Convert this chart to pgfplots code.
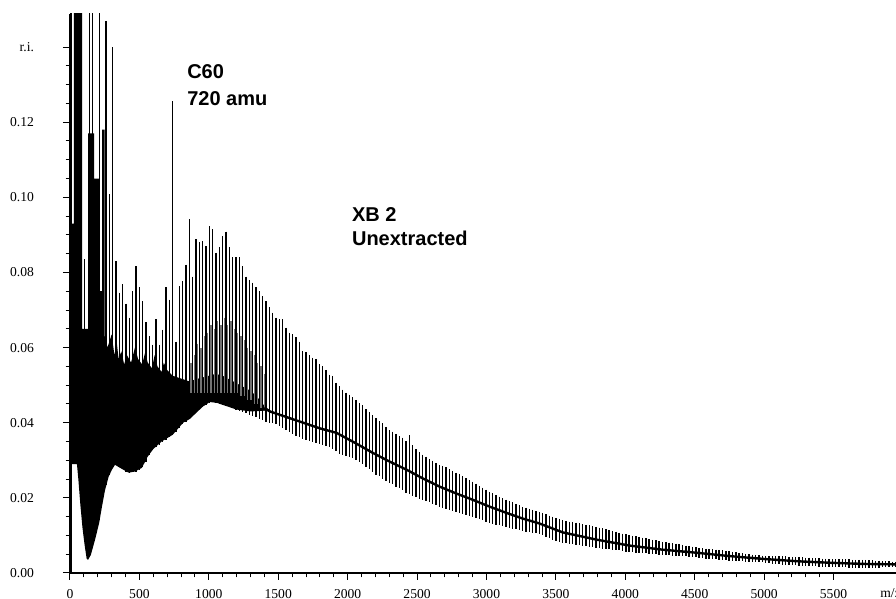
\documentclass[border=0pt]{standalone}
\usepackage{fontspec}
\setmainfont{Liberation Serif}
\setsansfont{Liberation Sans}
\usepackage{pgfplots}
\usepackage{pgfplotstable}
\pgfplotsset{compat=1.18}

% individual C_n peaks: m/z, foot of the line, top of the line
\pgfplotstableread{
m lo hi
8 0.0000 0.160
104 0.0090 0.0835
140 0.0042 0.160
164 0.0072 0.160
212 0.0140 0.160
260 0.0235 0.147
284 0.0262 0.1008
308 0.0280 0.140
332 0.0288 0.083
356 0.0284 0.0746
380 0.0276 0.0768
404 0.0270 0.0717
428 0.0267 0.0680
452 0.0268 0.0750
476 0.0270 0.0817
500 0.0273 0.0760
524 0.0283 0.0723
548 0.0295 0.0667
572 0.0313 0.0630
596 0.0327 0.0608
620 0.0335 0.0675
644 0.0342 0.0608
668 0.0348 0.0648
692 0.0355 0.0760
716 0.0362 0.0728
740 0.0368 0.1256
764 0.0375 0.0616
788 0.0385 0.0763
812 0.0397 0.0776
836 0.0403 0.0821
860 0.0410 0.0941
884 0.0420 0.0789
908 0.0428 0.0888
932 0.0436 0.0880
956 0.0443 0.0883
980 0.0448 0.0870
1004 0.0453 0.0923
1028 0.0455 0.0915
1052 0.0453 0.0853
1076 0.0450 0.0867
1100 0.0447 0.0896
1124 0.0445 0.0909
1148 0.0441 0.0867
1172 0.0438 0.0840
1196 0.0435 0.0840
1220 0.0432 0.0840
1244 0.0428 0.0816
1268 0.0425 0.0789
1292 0.0421 0.0780
1316 0.0418 0.0773
1340 0.0414 0.0760
1364 0.0410 0.0750
1388 0.0407 0.0736
1412 0.0403 0.0723
1436 0.0400 0.0707
1460 0.0398 0.0693
1484 0.0396 0.0680
1508 0.0390 0.0675
1532 0.0385 0.0675
1556 0.0380 0.0653
1580 0.0375 0.0640
1604 0.0370 0.0635
1628 0.0365 0.0627
1652 0.0362 0.0616
1676 0.0358 0.0590
1700 0.0355 0.0587
1724 0.0352 0.0580
1748 0.0350 0.0573
1772 0.0347 0.0570
1796 0.0344 0.0555
1820 0.0341 0.0550
1844 0.0338 0.0541
1868 0.0335 0.0528
1892 0.0331 0.0525
1916 0.0326 0.0507
1940 0.0318 0.0497
1964 0.0314 0.0488
1988 0.0312 0.0480
2012 0.0309 0.0475
2036 0.0305 0.0468
2060 0.0300 0.0461
2084 0.0296 0.0452
2108 0.0290 0.0446
2132 0.0282 0.0436
2156 0.0276 0.0428
2180 0.0268 0.0420
2204 0.0262 0.0413
2228 0.0257 0.0404
2252 0.0250 0.0398
2276 0.0245 0.0389
2300 0.0240 0.0380
2324 0.0236 0.0376
2348 0.0230 0.0370
2372 0.0226 0.0364
2396 0.0220 0.0360
2420 0.0214 0.0352
2444 0.0210 0.0366
2468 0.0206 0.0340
2492 0.0202 0.0330
2516 0.0198 0.0322
2540 0.0195 0.0315
2564 0.0191 0.0310
2588 0.0188 0.0304
2612 0.0184 0.0299
2636 0.0180 0.0293
2660 0.0176 0.0288
2684 0.0173 0.0285
2708 0.0170 0.0281
2732 0.0168 0.0276
2756 0.0165 0.0272
2780 0.0162 0.0267
2804 0.0160 0.0264
2828 0.0158 0.0258
2852 0.0155 0.0253
2876 0.0152 0.0248
2900 0.0150 0.0243
2924 0.0147 0.0238
2948 0.0144 0.0232
2972 0.0140 0.0227
2996 0.0137 0.0222
3020 0.0134 0.0216
3044 0.0131 0.0212
3068 0.0129 0.0208
3092 0.0127 0.0203
3116 0.0125 0.0199
3140 0.0123 0.0195
3164 0.0120 0.0192
3188 0.0118 0.0188
3212 0.0116 0.0184
3236 0.0114 0.0180
3260 0.0112 0.0176
3284 0.0110 0.0174
3308 0.0108 0.0171
3332 0.0107 0.0168
3356 0.0106 0.0165
3380 0.0105 0.0163
3404 0.0101 0.0160
3428 0.0097 0.0156
3452 0.0093 0.0153
3476 0.0089 0.0150
3500 0.0086 0.0147
3524 0.0083 0.0144
3548 0.0080 0.0141
3572 0.0079 0.0139
3596 0.0078 0.0137
3620 0.0076 0.0136
3644 0.0075 0.0134
3668 0.0074 0.0132
3692 0.0072 0.0130
3716 0.0071 0.0128
3740 0.0070 0.0127
3764 0.0069 0.0125
3788 0.0067 0.0123
3812 0.0066 0.0121
3836 0.0065 0.0119
3860 0.0064 0.0116
3884 0.0063 0.0114
3908 0.0062 0.0112
3932 0.0061 0.0110
3956 0.0060 0.0107
3980 0.0058 0.0105
4004 0.0057 0.0103
4028 0.0056 0.0101
4052 0.0055 0.0099
4076 0.0054 0.0098
4100 0.0054 0.0096
4124 0.0053 0.0094
4148 0.0052 0.0092
4172 0.0051 0.0090
4196 0.0050 0.0088
4220 0.0050 0.0087
4244 0.0049 0.0085
4268 0.0048 0.0083
4292 0.0047 0.0082
4316 0.0047 0.0081
4340 0.0046 0.0079
4364 0.0046 0.0078
4388 0.0045 0.0076
4412 0.0045 0.0075
4436 0.0044 0.0073
4460 0.0043 0.0072
4484 0.0043 0.0070
4508 0.0042 0.0069
4532 0.0040 0.0067
4556 0.0039 0.0066
4580 0.0038 0.0065
4604 0.0037 0.0064
4628 0.0037 0.0063
4652 0.0036 0.0062
4676 0.0035 0.0061
4700 0.0035 0.0060
4724 0.0034 0.0059
4748 0.0033 0.0058
4772 0.0032 0.0056
4796 0.0032 0.0055
4820 0.0031 0.0053
4844 0.0031 0.0052
4868 0.0030 0.0051
4892 0.0030 0.0050
4916 0.0029 0.0049
4940 0.0029 0.0048
4964 0.0028 0.0047
4988 0.0028 0.0046
5012 0.0027 0.0045
5036 0.0026 0.0045
5060 0.0025 0.0045
5084 0.0024 0.0044
5108 0.0023 0.0044
5132 0.0022 0.0044
5156 0.0021 0.0044
5180 0.0021 0.0043
5204 0.0020 0.0043
5228 0.0020 0.0043
5252 0.0019 0.0043
5276 0.0019 0.0042
5300 0.0019 0.0041
5324 0.0018 0.0041
5348 0.0018 0.0040
5372 0.0018 0.0039
5396 0.0017 0.0039
5420 0.0017 0.0038
5444 0.0017 0.0038
5468 0.0016 0.0037
5492 0.0016 0.0037
5516 0.0016 0.0037
5540 0.0015 0.0036
5564 0.0015 0.0036
5588 0.0015 0.0036
5612 0.0014 0.0036
5636 0.0014 0.0035
5660 0.0014 0.0035
5684 0.0014 0.0035
5708 0.0013 0.0035
5732 0.0013 0.0035
5756 0.0013 0.0034
5780 0.0014 0.0034
5804 0.0014 0.0033
5828 0.0014 0.0033
5852 0.0015 0.0032
5876 0.0015 0.0031
5900 0.0015 0.0031
5924 0.0016 0.0030
5948 0.0016 0.0030
}\peaks

% fainter lines between the main peaks of the hump
\pgfplotstableread{
m lo hi
872 0.048 0.056
896 0.048 0.058
920 0.048 0.061
944 0.048 0.060
968 0.048 0.063
992 0.048 0.064
1016 0.048 0.066
1040 0.048 0.065
1064 0.048 0.067
1088 0.048 0.066
1112 0.048 0.068
1136 0.048 0.066
1160 0.048 0.067
1184 0.048 0.065
1208 0.048 0.064
1232 0.047 0.063
1256 0.047 0.062
1280 0.046 0.060
1304 0.046 0.059
1328 0.045 0.058
1352 0.045 0.056
1376 0.044 0.055
1400 0.044 0.053
}\faint

% solid dark region at low mass
\pgfplotstableread{
m y
0 0
12 0
12 0.029
50 0.029
60 0.025
75 0.018
90 0.012
105 0.0075
120 0.0038
130 0.0035
150 0.0048
180 0.0088
210 0.0133
230 0.0176
252 0.022
278 0.0256
302 0.0275
324 0.0288
360 0.028
422 0.0267
468 0.027
518 0.028
560 0.031
600 0.033
660 0.035
740 0.0368
815 0.040
863 0.041
957 0.0443
1007 0.0455
1057 0.0453
1200 0.0435
1300 0.0430
1400 0.0432
1440 0.0430
1400 0.0445
1345 0.0470
1300 0.0485
1250 0.0495
1200 0.0505
1150 0.0515
1100 0.0525
1050 0.0530
1000 0.0525
950 0.0520
900 0.0515
860 0.0510
820 0.0515
780 0.0520
740 0.0525
700 0.0540
676 0.0560
660 0.0535
630 0.0550
610 0.0580
590 0.0545
560 0.0560
540 0.0585
520 0.0555
490 0.0570
468 0.0600
440 0.0560
410 0.0580
390 0.0555
370 0.0590
350 0.0570
338 0.0610
320 0.0580
300 0.0635
270 0.0600
250 0.0630
250 0.118
232 0.118
232 0.075
216 0.075
216 0.105
173 0.105
173 0.117
130 0.117
130 0.065
88 0.065
88 0.16
28 0.16
28 0.093
0 0.093
}\core

% dense centre of the trace
\pgfplotstableread{
m y
1400 0.0440
1440 0.0430
1560 0.0415
1680 0.0400
1800 0.0385
1920 0.0373
2060 0.0345
2180 0.0320
2300 0.0297
2424 0.0275
2540 0.0252
2662 0.0230
2780 0.0212
2900 0.0195
3020 0.0177
3144 0.0160
3260 0.0145
3380 0.0132
3550 0.0108
3790 0.0089
4030 0.0073
4270 0.0062
4510 0.0054
4750 0.0045
5010 0.0037
5250 0.0031
5490 0.0027
5730 0.0024
5950 0.0023
}\band

\begin{document}
\begin{tikzpicture}
\begin{axis}[
  at={(0,0)}, anchor=south west,
  scale only axis, width=413pt, height=279.5pt,
  xmin=0, xmax=5950, ymin=0, ymax=0.1488,
  axis x line*=bottom, axis y line*=left,
  axis line style={-, line width=0.6pt},
  tick align=outside,
  major tick length=3.5pt, minor tick length=2.2pt,
  tick style={black, line width=0.5pt},
  xtick={0,500,1000,1500,2000,2500,3000,3500,4000,4500,5000,5500},
  xticklabels={0,500,1000,1500,2000,2500,3000,3500,4000,4500,5000,5500},
  minor x tick num=4,
  ytick={0,0.02,0.04,0.06,0.08,0.10,0.12,0.14},
  yticklabels={0.00,0.02,0.04,0.06,0.08,0.10,0.12,r.i.},
  minor y tick num=3,
  tick label style={font=\fontsize{6.8}{8}\selectfont},
  xticklabel style={yshift=-1pt},
  yticklabel style={xshift=-11pt},
]

\addplot[fill=black, draw=none, forget plot] table[x=m, y=y] {\core} -- cycle;

\addplot[draw=none, mark=none, forget plot,
  error bars/.cd, y dir=minus, y explicit, error mark=none,
  error bar style={draw=black!55, line width=0.6pt}]
  table[x=m, y=hi, y error minus expr={\thisrow{hi}-\thisrow{lo}}] {\faint};

\addplot[draw=none, mark=none, forget plot,
  error bars/.cd, y dir=minus, y explicit, error mark=none,
  error bar style={draw=black, line width=0.7pt}]
  table[x=m, y=hi, y error minus expr={\thisrow{hi}-\thisrow{lo}}] {\peaks};

\addplot[black, line width=1.2pt, forget plot] table[x=m, y=y] {\band};

\node[anchor=base west, inner sep=0pt, font=\sffamily\bfseries\fontsize{10}{12}\selectfont]
  at (axis cs:842,0.1317) {C60};
\node[anchor=base west, inner sep=0pt, font=\sffamily\bfseries\fontsize{10}{12}\selectfont]
  at (axis cs:842,0.1245) {720 amu};
\node[anchor=base west, inner sep=0pt, font=\sffamily\bfseries\fontsize{10}{12}\selectfont]
  at (axis cs:2029,0.0936) {XB 2};
\node[anchor=base west, inner sep=0pt, font=\sffamily\bfseries\fontsize{10}{12}\selectfont]
  at (axis cs:2029,0.0872) {Unextracted};
\end{axis}
\node[anchor=north west, inner sep=0pt, font=\fontsize{6.8}{8}\selectfont] at (405pt,-7.5pt) {m/z};
\pgfresetboundingbox
\useasboundingbox (-35pt,-13pt) rectangle (413pt,286.5pt);
\end{tikzpicture}
\end{document}
